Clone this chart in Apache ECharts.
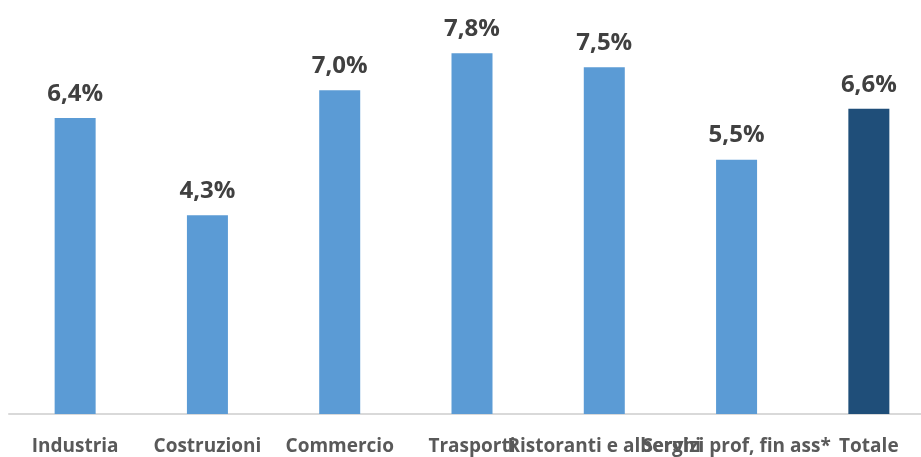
<!DOCTYPE html>
<html>
<head>
<meta charset="utf-8">
<script src="https://cdn.jsdelivr.net/npm/echarts@6/dist/echarts.min.js"></script>
<style>
  html, body { margin: 0; padding: 0; background: #fff; }
  #chart { width: 921px; height: 457px; }
</style>
</head>
<body>
<div id="chart"></div>
<script>
var categories = ['Industria', 'Costruzioni', 'Commercio', 'Trasporti', 'Ristoranti e alberghi', 'Servizi prof, fin ass*', 'Totale']
var values = [6.4, 4.3, 7.0, 7.8, 7.5, 5.5, 6.6]
var totalName = 'Totale'

var myChart = echarts.init(document.getElementById('chart'))

var option = {
  animation: false,
  grid: {
    left: 9,
    right: -14,
    top: 7,
    bottom: 43,
    outerBoundsMode: 'none'
  },
  xAxis: {
    type: 'category',
    data: categories,
    axisTick: { show: false },
    axisLine: {
      lineStyle: { color: '#d9d9d9', width: 2 }
    },
    axisLabel: {
      interval: 0,
      color: '#595959',
      fontFamily: 'Open Sans',
      fontWeight: 'bold',
      fontSize: 19,
      margin: 23
    }
  },
  yAxis: {
    type: 'value',
    min: 0,
    max: 8.8,
    show: false,
    splitLine: { show: false }
  },
  series: [
    {
      type: 'bar',
      data: values,
      barWidth: 41,
      itemStyle: {
        color: function (p) {
          return p.name === totalName ? '#1f4e79' : '#5b9bd5'
        }
      },
      label: {
        show: true,
        position: 'top',
        distance: 12,
        color: '#404040',
        fontFamily: 'Open Sans',
        fontWeight: 'bold',
        fontSize: 24,
        formatter: function (p) {
          return p.value.toFixed(1).replace('.', ',') + '%'
        }
      }
    }
  ]
}

myChart.setOption(option)
</script>
</body>
</html>
